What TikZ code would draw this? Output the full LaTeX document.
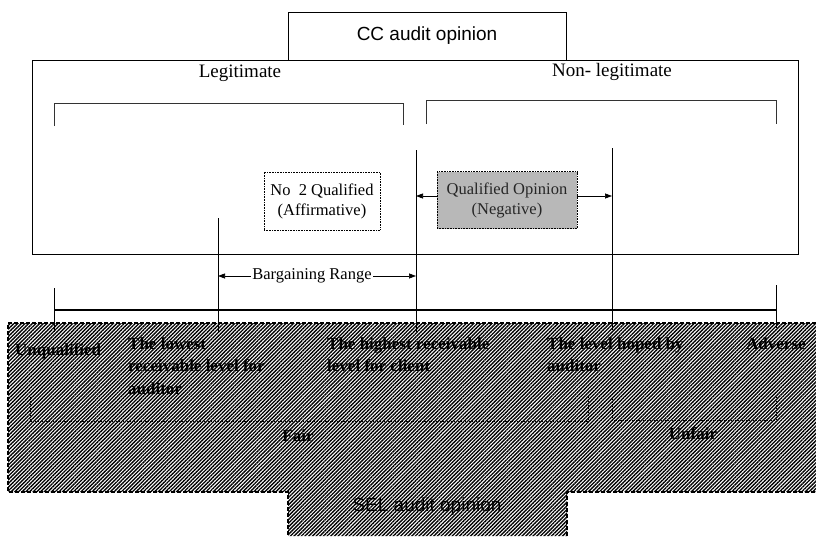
\documentclass[tikz,border=0pt]{standalone}
\usepackage{fontspec}
\setmainfont{Liberation Serif}
\newfontfamily\arialf{Liberation Sans}
\usetikzlibrary{arrows.meta,patterns.meta}
\begin{document}
\begin{tikzpicture}[x=1pt,y=-1pt,
  boxline/.style={draw, line width=0.9pt, inner sep=0pt},
  headtxt/.style={font=\fontsize{19}{22}\selectfont},
  sanstxt/.style={font=\arialf\fontsize{19}{22}\selectfont},
  midtxt/.style={font=\fontsize{16.5}{20}\selectfont, align=center},
  hlab/.style={font=\bfseries\fontsize{17}{22.5}\selectfont, align=left, anchor=north west, inner sep=0pt},
  vline/.style={line width=1pt},
  brk/.style={line width=0.6pt, black!80},
  lbrk/.style={line width=0.8pt, densely dotted},
  tip/.style={-{Triangle[length=7pt,width=5pt]}},
  hatch/.style={pattern={Lines[angle=45,distance=2.6pt,line width=1.35pt]}, pattern color=black},
  hedge/.style={line width=1.3pt, dash pattern=on 4pt off 2pt}
]
\useasboundingbox (0,0) rectangle (816,536);

% upper frame
\node[boxline, minimum width=766pt, minimum height=194pt] (frame) at (415,157) {};
\node[boxline, fill=white, minimum width=278pt, minimum height=48pt, sanstxt] (cc) at (427,36) {CC audit opinion};
\node[headtxt] (leg) at (240,73) {Legitimate};
\node[headtxt] (nonleg) at (612,72) {Non- legitimate};

% brackets in upper frame
\coordinate (bl1) at (54,126); \coordinate (bl2) at (403,103); \coordinate (bl3) at (403,125);
\coordinate (br1) at (426,124); \coordinate (br2) at (776,100); \coordinate (br3) at (776,124);
\draw[brk] (bl1) |- (bl2) -- (bl3);
\draw[brk] (br1) |- (br2) -- (br3);

% hatched lower region
\path[hatch] (8,323) -- (816,323) -- (816,492) -- (567,492) -- (567,536) -- (288,536) -- (288,492) -- (8,492) -- cycle;
\draw[hedge] (816,323) -- (8,323) -- (8,492) -- (288,492) -- (288,536);
\draw[hedge] (567,536) -- (567,492) -- (816,492);

% key coordinates
\coordinate (unqT) at (54,288);  \coordinate (unqB) at (54,332);
\coordinate (lowT) at (218,218); \coordinate (lowB) at (218,332);
\coordinate (highT) at (416,150); \coordinate (highB) at (416,332);
\coordinate (hopeT) at (612,148); \coordinate (hopeB) at (612,330);
\coordinate (advT) at (776,285); \coordinate (advB) at (776,328);
\coordinate (sL) at (54,310); \coordinate (sR) at (776,310);

\draw[vline] (unqT) -- (unqB);
\draw[vline] (lowT) -- (lowB);
\draw[vline] (highT) -- (highB);
\draw[vline] (hopeT) -- (hopeB);
\draw[vline] (advT) -- (advB);
\draw[line width=2.2pt] (sL) -- (sR);

% opinion boxes
\node[draw, densely dotted, line width=0.6pt, fill=white, minimum width=116pt, minimum height=58pt, midtxt] (aff) at (322,201) {No\ \ 2 Qualified\\(Affirmative)};
\node[draw, densely dotted, line width=0.6pt, fill=black!28, minimum width=140pt, minimum height=57pt, midtxt, text=black!85] (neg) at (507,200) {Qualified Opinion\\(Negative)};
\draw[tip, line width=0.7pt] (neg.west |- 0,196) -- (highT |- 0,196);
\draw[tip, line width=0.7pt] (neg.east |- 0,196) -- (hopeT |- 0,196);

% bargaining range
\coordinate (brA) at (lowT |- 0,276);
\coordinate (brB) at (highT |- 0,276);
\draw[{Triangle[length=7pt,width=5pt]}-{Triangle[length=7pt,width=5pt]}, line width=0.7pt] (brA) -- (brB);
\node[fill=white, inner sep=1pt, midtxt] (barg) at (312,276) {Bargaining Range};

% labels in hatched region
\node[hlab] (unq) at (15,343) {Unqualified};
\node[hlab] (lowest) at (128,337) {The lowest\\receivable level for\\auditor};
\node[hlab] (highest) at (327,337) {The highest receivable\\level for client};
\node[hlab] (hoped) at (547,337) {The level hoped by\\auditor};
\node[hlab] (adv) at (746,337) {Adverse};

% lower brackets
\coordinate (fl1) at (30,397); \coordinate (fl2) at (588,421); \coordinate (fl3) at (588,397);
\coordinate (ul1) at (612,397); \coordinate (ul2) at (776,420); \coordinate (ul3) at (776,397);
\draw[lbrk] (fl1) |- (fl2) -- (fl3);
\draw[lbrk] (ul1) |- (ul2) -- (ul3);
\node[font=\bfseries\fontsize{17}{20}\selectfont] (fair) at (298,436) {Fair};
\node[font=\bfseries\fontsize{17}{20}\selectfont] (unfair) at (693,434) {Unfair};

\node[sanstxt] (sel) at (427,507) {SEL audit opinion};
\end{tikzpicture}
\end{document}
